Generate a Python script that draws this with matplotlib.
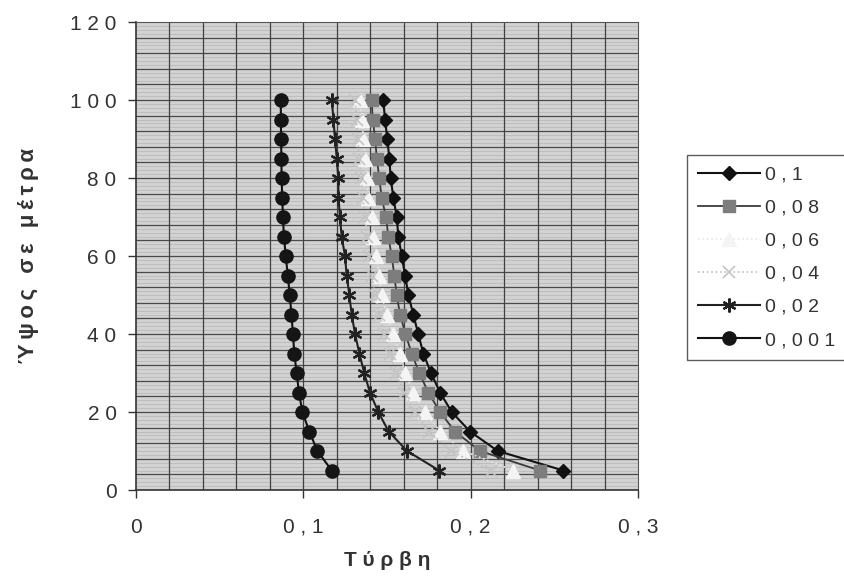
import matplotlib
matplotlib.use("Agg")
import matplotlib.pyplot as plt
import numpy as np

plt.rcParams['font.family'] = ['Liberation Sans', 'DejaVu Sans']

# Heights (m) and turbulence intensity profiles per roughness length
heights = [5, 10, 15, 20, 25, 30, 35, 40, 45, 50,
           55, 60, 65, 70, 75, 80, 85, 90, 95, 100]

s_0_1 = [0.2554, 0.2162, 0.1996, 0.1887, 0.1817, 0.1763, 0.1717, 0.1687, 0.1657, 0.1628,
         0.1608, 0.1588, 0.1568, 0.1558, 0.1538, 0.1522, 0.1514, 0.1502, 0.1488, 0.1478]
s_0_08 = [0.2414, 0.2056, 0.1906, 0.1817, 0.1747, 0.1693, 0.1648, 0.1610, 0.1578, 0.1558,
          0.1544, 0.1528, 0.1508, 0.1494, 0.1468, 0.1454, 0.1439, 0.1429, 0.1415, 0.1408]
s_0_06 = [0.2255, 0.1956, 0.1817, 0.1727, 0.1657, 0.1608, 0.1578, 0.1535, 0.1498, 0.1468,
          0.1454, 0.1434, 0.1418, 0.1408, 0.1389, 0.1379, 0.1369, 0.1359, 0.1349, 0.1339]
s_0_04 = [0.2120, 0.1880, 0.1750, 0.1665, 0.1600, 0.1555, 0.1520, 0.1485, 0.1455, 0.1430,
          0.1410, 0.1395, 0.1380, 0.1370, 0.1355, 0.1345, 0.1335, 0.1325, 0.1318, 0.1310]
s_0_02 = [0.1812, 0.1620, 0.1510, 0.1448, 0.1398, 0.1364, 0.1335, 0.1309, 0.1289, 0.1275,
          0.1259, 0.1249, 0.1229, 0.1219, 0.1210, 0.1209, 0.1200, 0.1189, 0.1180, 0.1170]
s_0_001 = [0.1170, 0.1084, 0.1036, 0.0994, 0.0974, 0.0960, 0.0946, 0.0938, 0.0929, 0.0919,
           0.0907, 0.0895, 0.0884, 0.0878, 0.0874, 0.0870, 0.0869, 0.0867, 0.0866, 0.0865]

series_labels = ["0,1", "0,08", "0,06", "0,04", "0,02", "0,001"]
x_ticks = [0, 0.1, 0.2, 0.3]
y_ticks = [0, 20, 40, 60, 80, 100, 120]


def spaced(s, sep=" "):
    return sep.join(s)


def fmt_num(v):
    if v == 0:
        return "0"
    return ("%g" % v).replace(".", ",")


fig = plt.figure(figsize=(8.45, 5.78), dpi=100)
ax = fig.add_axes([136 / 845, 88 / 578, 502 / 845, 468 / 578])
ax.set_facecolor('#d2d2d2')

# fine horizontal texture + main grid
for yv in np.arange(1, 120, 1):
    ax.axhline(yv, color='#b4b4b4', lw=0.5, zorder=0.5)
for yv in np.arange(4, 120, 4):
    ax.axhline(yv, color='#4a4a4a', lw=0.9, zorder=0.6)
for xv in np.arange(0.02, 0.3, 0.02):
    ax.axvline(xv, color='#404040', lw=0.9, zorder=0.6)

styles = [
    (s_0_1, dict(color='#111111', lw=1.5, marker='D', ms=7.5, mfc='#111111', mec='#111111', ls='-')),
    (s_0_08, dict(color='#3a3a3a', lw=1.3, marker='s', ms=9, mfc='#7d7d7d', mec='#7d7d7d', ls='-')),
    (s_0_06, dict(color='#e8e8e8', lw=1.2, marker='^', ms=9.5, mfc='#f4f4f4', mec='#f4f4f4', ls=':')),
    (s_0_04, dict(color='#bdbdbd', lw=1.2, marker='x', ms=8, mfc='none', mec='#c4c4c4', mew=1.2, ls=':')),
    (s_0_02, dict(color='#222222', lw=1.5, marker=(6, 2, 0), ms=10, mec='#222222', mew=1.6, ls='-')),
    (s_0_001, dict(color='#111111', lw=1.5, marker='o', ms=9.5, mfc='#151515', mec='#151515', ls='-')),
]

handles = []
for i, ((vals, kw), lab) in enumerate(zip(styles, series_labels)):
    h, = ax.plot(vals, heights, label=spaced(lab), zorder=3 + i, **kw)
    handles.append(h)

ax.set_xlim(0, 0.3)
ax.set_ylim(0, 120)
ax.set_xticks(x_ticks)
ax.set_xticklabels([spaced(fmt_num(v)) for v in x_ticks])
ax.set_yticks(y_ticks)
ax.set_yticklabels([spaced(fmt_num(v)) for v in y_ticks])
ax.tick_params(axis='both', labelsize=15, colors='#333333', length=6, width=1, direction='out')
ax.tick_params(axis='x', pad=14)
ax.tick_params(axis='y', pad=8)

for side in ['top', 'right']:
    ax.spines[side].set_color('#555555')
for side in ['left', 'bottom']:
    ax.spines[side].set_color('#333333')
    ax.spines[side].set_linewidth(1.2)

ax.set_xlabel(spaced("Τύρβη"), fontsize=15, fontweight='bold', color='#333333', labelpad=10)
ax.set_ylabel(spaced("Ύψος σε μέτρα", "\u2009"), fontsize=16, fontweight='bold',
              color='#333333', labelpad=22)

leg = fig.legend(handles=handles, loc='upper left', bbox_to_anchor=(687 / 845, 1 - 155 / 578),
                 fontsize=14, frameon=True, fancybox=False, edgecolor='#333333',
                 handlelength=3.2, labelspacing=0.8, borderpad=0.55, handletextpad=0.25,
                 borderaxespad=0)
leg.get_frame().set_linewidth(1.0)
for t in leg.get_texts():
    t.set_color('#333333')

fig.savefig("out.png", dpi=100, facecolor='white')
